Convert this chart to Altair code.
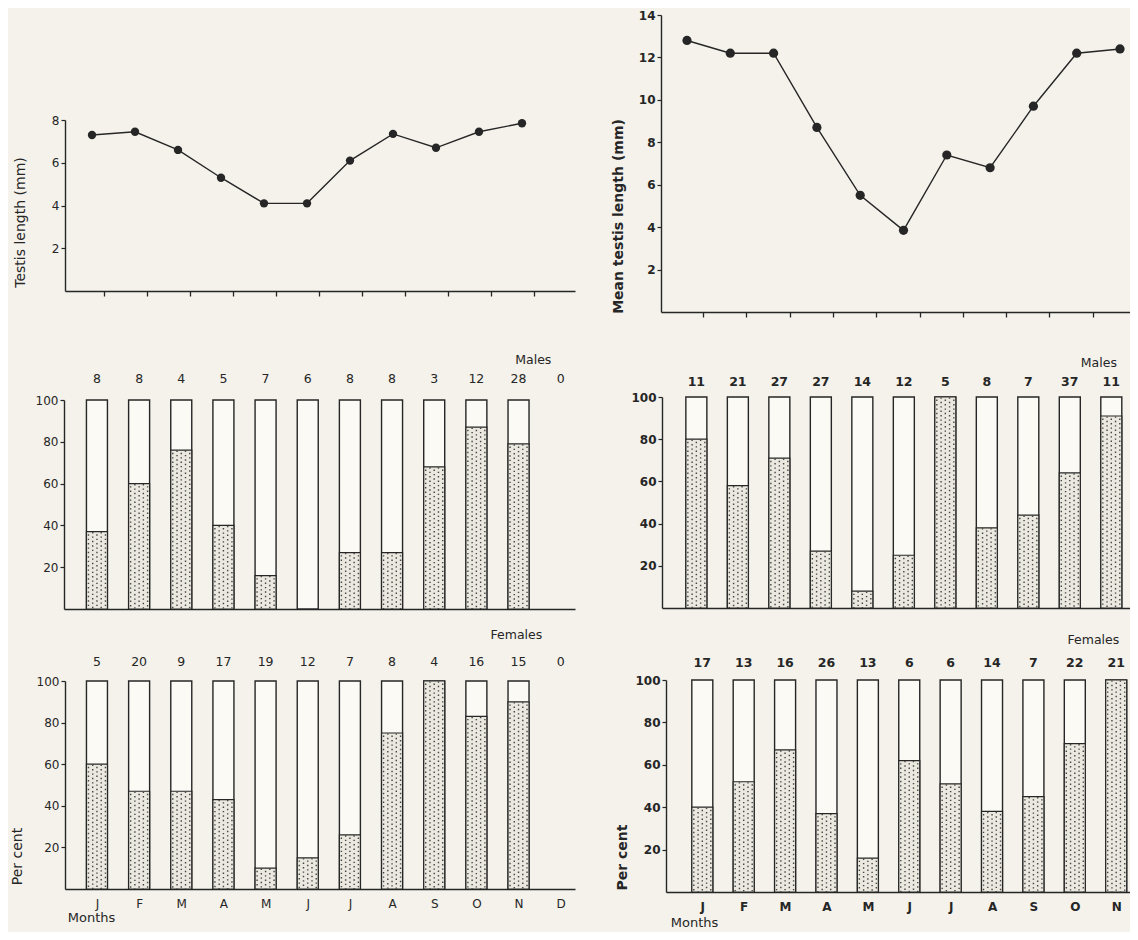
import altair as alt
import pandas as pd

# ---------------- data ----------------
MONTH_LETTERS = ["J", "F", "M", "A", "M", "J", "J", "A", "S", "O", "N", "D"]

# left figure
left_testis_mm = [7.3, 7.45, 6.6, 5.3, 4.1, 4.1, 6.1, 7.35, 6.7, 7.45, 7.85]
left_male_n = [8, 8, 4, 5, 7, 6, 8, 8, 3, 12, 28, 0]
left_male_pct = [37, 60, 76, 40, 16, 0, 27, 27, 68, 87, 79, 0]
left_female_n = [5, 20, 9, 17, 19, 12, 7, 8, 4, 16, 15, 0]
left_female_pct = [60, 47, 47, 43, 10, 15, 26, 75, 100, 83, 90, 0]

# right figure
right_testis_mm = [12.8, 12.2, 12.2, 8.7, 5.5, 3.85, 7.4, 6.8, 9.7, 12.2, 12.4]
right_male_n = [11, 21, 27, 27, 14, 12, 5, 8, 7, 37, 11]
right_male_pct = [80, 58, 71, 27, 8, 25, 100, 38, 44, 64, 91]
right_female_n = [17, 13, 16, 26, 13, 6, 6, 14, 7, 22, 21]
right_female_pct = [40, 52, 67, 37, 16, 62, 51, 38, 45, 70, 100]

# ---------------- styling ----------------
FONT = "DejaVu Sans"
INK = "#262626"
BG = "#f4f2eb"
PAPER = "#fbfaf5"
STIP = "#ebe8df"
DOT = "#444444"
M = 8            # page margin
W, H = 1122, 924  # whole drawing area


def xscale(x0, x1, c1, step):
    dom = [1 + (x0 - c1) / step, 1 + (x1 - c1) / step]
    return alt.Scale(domain=dom, range=[x0 - M, x1 - M], nice=False, zero=False)


def yscale(dmax, y0, ytop):
    return alt.Scale(domain=[0, dmax], range=[y0 - M, ytop - M], nice=False, zero=False)


def y_axis(values, axis_px, bold, title=None, tx=0, ty=0, tsize=12):
    kw = dict(orient="left", values=values, offset=-(axis_px - M), tickSize=4,
              tickColor=INK, tickWidth=1.2, domainColor=INK, domainWidth=1.4,
              labelFont=FONT, labelFontSize=12, labelColor=INK, labelPadding=2,
              labelFontWeight="bold" if bold else "normal", grid=False)
    if title:
        kw.update(title=title, titleX=tx - axis_px, titleY=ty - M, titleFont=FONT,
                  titleFontSize=tsize, titleColor=INK, titleAlign="center",
                  titleBaseline="middle", titleAngle=270,
                  titleFontWeight="bold" if bold else "normal")
    else:
        kw.update(title=None)
    return alt.Axis(**kw)


def x_axis(y0, bold, tick_values=None, labels=False, ntick=12, tx=0, ty=0):
    kw = dict(orient="bottom", offset=(y0 - M) - H, domainColor=INK, domainWidth=1.4,
              grid=False)
    if tick_values is not None:
        kw.update(values=tick_values, ticks=True, tickSize=5, tickColor=INK,
                  tickWidth=1.3, labels=False, title=None)
    elif labels:
        letters = "[" + ",".join("'%s'" % m for m in MONTH_LETTERS) + "]"
        kw.update(values=list(range(1, ntick + 1)), ticks=False, labels=True,
                  labelExpr=letters + "[datum.value - 1]", labelFont=FONT,
                  labelFontSize=12, labelColor=INK, labelPadding=9,
                  labelFontWeight="bold" if bold else "normal",
                  title="Months", titleX=tx - M, titleY=ty - y0, titleFont=FONT,
                  titleFontSize=13, titleColor=INK, titleAlign="center",
                  titleBaseline="middle", titleFontWeight="normal")
    else:
        kw.update(ticks=False, labels=False, title=None)
    return alt.Axis(**kw)


def line_panel(values, xs, ys, xax, yax, dot_size):
    df = pd.DataFrame({"month": list(range(1, len(values) + 1)), "mm": values})
    X = alt.X("month:Q", scale=xs, axis=xax)
    Y = alt.Y("mm:Q", scale=ys, axis=yax)
    base = alt.Chart(df)
    line = base.mark_line(color=INK, strokeWidth=1.4).encode(x=X, y=Y)
    pts = base.mark_circle(size=dot_size, color=INK, opacity=1).encode(x=X, y=Y)
    return alt.layer(line, pts)


def bar_panel(counts, pcts, xs, ys, xax, yax, bw, bold, label, lab_x, lab_y, count_y):
    df = pd.DataFrame({"month": list(range(1, len(counts) + 1)), "n": counts, "pct": pcts})
    bars_df = df[df["n"] > 0]
    X = alt.X("month:Q", scale=xs, axis=xax)
    base = alt.Chart(bars_df).transform_calculate(full="100")
    outline = base.mark_bar(width=bw, fill=PAPER, stroke=INK, strokeWidth=1.4).encode(
        x=X, y=alt.Y("full:Q", scale=ys, axis=yax))
    stip = alt.Chart(bars_df[bars_df["pct"] > 0]).mark_bar(
        width=bw, fill=STIP, stroke=INK, strokeWidth=1.2).encode(
        x=X, y=alt.Y("pct:Q", scale=ys, axis=yax))
    layers = [outline, stip]
    step = (bw - 4) / 4.0
    for i, k in enumerate([-2, -1, 0, 1, 2]):
        rule = alt.Chart(bars_df[bars_df["pct"] > 2]).mark_rule(
            xOffset=k * step, color=DOT, strokeWidth=1.4, strokeDash=[1.4, 3.0],
            strokeDashOffset=2.2 * (i % 2) + 1.8).encode(
            x=X, y=alt.Y("pct:Q", scale=ys, axis=yax), y2=alt.datum(0))
        layers.append(rule)
    counts_txt = alt.Chart(df).mark_text(
        font=FONT, fontSize=12.5, color=INK, baseline="middle",
        fontWeight="bold" if bold else "normal").encode(
        x=X, y=alt.Y(datum=count_y, scale=ys, axis=yax), text=alt.Text("n:Q"))
    sex = alt.Chart(alt.Data(values=[{"t": label}])).mark_text(
        font=FONT, fontSize=12.5, color=INK, baseline="middle").encode(
        x=alt.X(datum=lab_x, scale=xs, axis=xax), y=alt.Y(datum=lab_y, scale=ys, axis=yax),
        text="t:N")
    layers += [counts_txt, sex]
    return alt.layer(*layers)


# ---------------- panels ----------------
# left column (bar centres J..D at x = 92 + 43*(k-1))
L_X = xscale(65, 575, 92, 43)
ll = line_panel(
    left_testis_mm, L_X, yscale(8, 291, 120),
    x_axis(291, False, tick_values=[k + 0.27 for k in range(1, 13)]),
    y_axis([2, 4, 6, 8], 65, False, "Testis length (mm)", 20, 222, 14), 70)

LM_X = xscale(64, 575, 92.5, 43)
lm = bar_panel(
    left_male_n, left_male_pct, LM_X, yscale(100, 609, 400),
    x_axis(609, False), y_axis([20, 40, 60, 80, 100], 64, False),
    21, False, "Males", 11.35, 119, 110)

LF_X = xscale(65, 575, 92.5, 43)
lf = bar_panel(
    left_female_n, left_female_pct, LF_X, yscale(100, 889, 681),
    x_axis(889, False, labels=True, ntick=12, tx=91, ty=917),
    y_axis([20, 40, 60, 80, 100], 65, False, "Per cent", 17, 856, 14),
    21, False, "Females", 10.95, 122, 109)

# right column
RL_X = xscale(661, 1130, 687, 43.3)
rl = line_panel(
    right_testis_mm, RL_X, yscale(14, 312, 15),
    x_axis(312, True, tick_values=[k + 0.37 for k in range(1, 12)]),
    y_axis([2, 4, 6, 8, 10, 12, 14], 661, True, "Mean testis length (mm)", 618, 216, 14), 85)

RM_X = xscale(662, 1130, 692, 42.4)
rm = bar_panel(
    right_male_n, right_male_pct, RM_X, yscale(100, 608, 397),
    x_axis(608, True), y_axis([20, 40, 60, 80, 100], 662, True),
    21, True, "Males", 10.7, 116, 107)

RF_X = xscale(666, 1130, 698, 42.3)
rf = bar_panel(
    right_female_n, right_female_pct, RF_X, yscale(100, 892, 680),
    x_axis(892, True, labels=True, ntick=11, tx=694, ty=922),
    y_axis([20, 40, 60, 80, 100], 666, True, "Per cent", 622, 857, 14),
    21, True, "Females", 10.45, 119, 108)

chart = alt.layer(ll, lm, lf, rl, rm, rf).resolve_scale(
    x="independent", y="independent"
).properties(
    width=W, height=H, padding=0, background=BG,
    autosize=alt.AutoSizeParams(type="none"),
).configure_view(strokeWidth=0)

chart.save("out.html", embed_options={"renderer": "svg", "actions": False})
